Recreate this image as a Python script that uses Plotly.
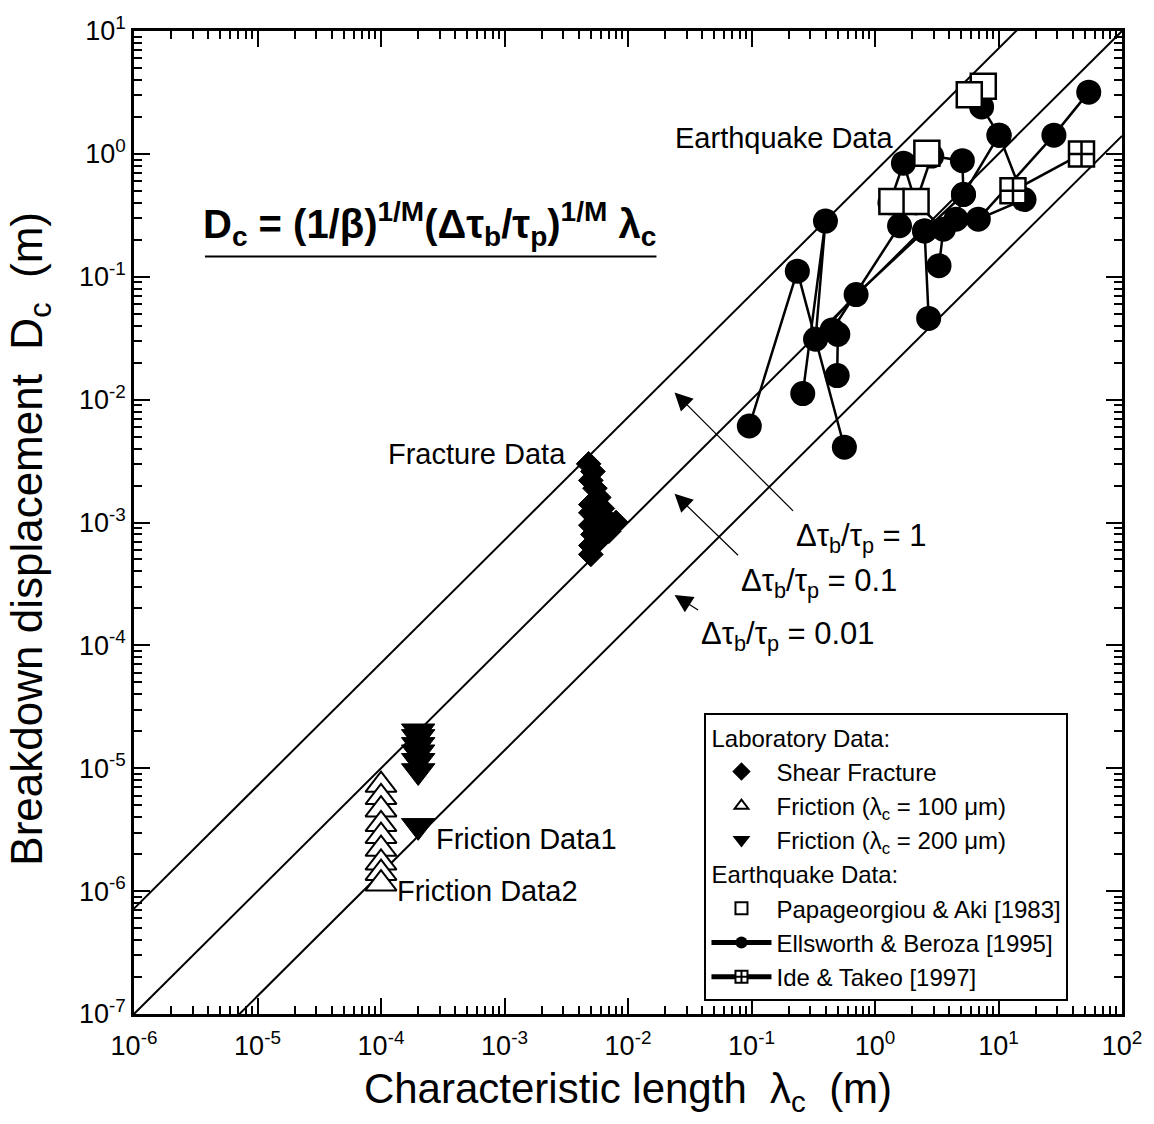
import plotly.graph_objects as go

# ---------------- data ----------------
# reference lines D_c = c * lambda_c  (end points)
line_x = [1e-6, 1e2]
line1_y = [7.2e-7, 72.0]     # dtau/tau = 1
line2_y = [1e-7, 10.0]       # dtau/tau = 0.1
line3_y = [1.4e-8, 1.4]      # dtau/tau = 0.01

# laboratory: shear fracture
shear_x = [4.8e-3, 5.2e-3, 5.0e-3, 5.4e-3, 5.8e-3, 5.0e-3, 6.2e-3, 5.0e-3, 5.5e-3,
           6.5e-3, 8.0e-3, 5.0e-3, 6.0e-3, 7.0e-3, 5.2e-3, 6.0e-3, 5.0e-3, 5.0e-3]
shear_y = [3.0e-3, 2.6e-3, 2.2e-3, 1.9e-3, 1.6e-3, 1.4e-3, 1.3e-3, 1.2e-3, 1.1e-3,
           1.1e-3, 1.0e-3, 9.5e-4, 9.0e-4, 8.5e-4, 8.0e-4, 7.5e-4, 6.5e-4, 5.5e-4]

# laboratory: friction lambda_c = 100 um
fric100_x = [1e-4] * 9
fric100_y = [7.3e-6, 5.8e-6, 4.6e-6, 3.5e-6, 2.8e-6, 2.2e-6, 1.7e-6, 1.4e-6, 1.15e-6]

# laboratory: friction lambda_c = 200 um
fric200_x = [2e-4] * 7
fric200_y = [2.0e-5, 1.8e-5, 1.55e-5, 1.35e-5, 1.15e-5, 9.5e-6, 3.4e-6]

# earthquake: Papageorgiou & Aki [1983]
pa_x = [1.37, 2.15, 2.63, 7.53, 5.8]
pa_y = [0.41, 0.41, 1.01, 3.55, 3.03]

# earthquake: Ellsworth & Beroza [1995] (None separates connected groups)
eb_x = [0.096, 0.235, 0.565, None,
        0.26, 0.397, 0.33, 0.703, 2.52, 2.72, None,
        0.494, 0.50, 0.45, 1.58, 1.32, 1.70, 2.14, 3.58, 3.3, None,
        2.14, 2.88, 5.1, 5.2, 2.52, None,
        53.8, 28.1, 6.86, 16.1, 10.1, 7.3, None,
        10.1, 5.2, 4.53]
eb_y = [0.0061, 0.111, 0.0041, None,
        0.0112, 0.284, 0.031, 0.0716, 0.236, 0.0458, None,
        0.0157, 0.034, 0.0369, 0.26, 0.40, 0.84, 0.40, 0.244, 0.123, None,
        0.40, 0.96, 0.88, 0.467, 0.236, None,
        3.18, 1.42, 0.294, 0.425, 1.42, 2.41, None,
        1.42, 0.467, 0.294]

# earthquake: Ide & Takeo [1997]
it_x = [13.1, 47.0]
it_y = [0.50, 1.0]

tick_vals_x = [1e-6, 1e-5, 1e-4, 1e-3, 1e-2, 1e-1, 1e0, 1e1, 1e2]
tick_text_x = ["10<sup>-6</sup>", "10<sup>-5</sup>", "10<sup>-4</sup>", "10<sup>-3</sup>",
               "10<sup>-2</sup>", "10<sup>-1</sup>", "10<sup>0</sup>", "10<sup>1</sup>",
               "10<sup>2</sup>"]
tick_vals_y = [1e-7, 1e-6, 1e-5, 1e-4, 1e-3, 1e-2, 1e-1, 1e0, 1e1]
tick_text_y = ["10<sup>-7</sup>", "10<sup>-6</sup>", "10<sup>-5</sup>", "10<sup>-4</sup>",
               "10<sup>-3</sup>", "10<sup>-2</sup>", "10<sup>-1</sup>", "10<sup>0</sup>",
               "10<sup>1</sup>"]

FONT = "Liberation Sans, Arial, Helvetica, sans-serif"

fig = go.Figure()

for ly in (line1_y, line2_y, line3_y):
    fig.add_trace(go.Scatter(x=line_x, y=ly, mode="lines",
                             line=dict(color="black", width=2),
                             showlegend=False, hoverinfo="skip"))

fig.add_trace(go.Scatter(
    x=shear_x, y=shear_y, mode="markers", name="Shear Fracture",
    legendgroup="lab", legendgrouptitle=dict(text="Laboratory Data:"), legendrank=1,
    marker=dict(symbol="diamond", size=19, color="black", line=dict(color="black", width=1))))
fig.add_trace(go.Scatter(
    x=fric100_x, y=fric100_y, mode="markers", name="Friction (λ<sub>c</sub> = 100 μm)",
    legendgroup="lab", legendrank=2,
    marker=dict(symbol="triangle-up", size=27, color="white", line=dict(color="black", width=2))))
fig.add_trace(go.Scatter(
    x=fric200_x, y=fric200_y, mode="markers", name="Friction (λ<sub>c</sub> = 200 μm)",
    legendgroup="lab", legendrank=3,
    marker=dict(symbol="triangle-down", size=29, color="black", line=dict(color="black", width=1))))
fig.add_trace(go.Scatter(
    x=eb_x, y=eb_y, mode="lines+markers", name="Ellsworth & Beroza [1995]",
    legendgroup="eq", legendrank=5, connectgaps=False,
    line=dict(color="black", width=2.5),
    marker=dict(symbol="circle", size=25, color="black")))
fig.add_trace(go.Scatter(
    x=pa_x, y=pa_y, mode="markers", name="Papageorgiou & Aki [1983]",
    legendgroup="eq", legendgrouptitle=dict(text="Earthquake Data:"), legendrank=4,
    marker=dict(symbol="square", size=25, color="white", line=dict(color="black", width=2.5))))
fig.add_trace(go.Scatter(
    x=it_x, y=it_y, mode="lines+markers", name="Ide & Takeo [1997]",
    legendgroup="eq", legendrank=6,
    line=dict(color="black", width=2.5),
    marker=dict(symbol="square-cross", size=25, color="white", line=dict(color="black", width=2.5))))

axis_common = dict(
    type="log", showgrid=False, zeroline=False, showline=True, linecolor="black",
    linewidth=2.5, mirror="allticks", ticks="inside", ticklen=16, tickwidth=2,
    tickcolor="black", tickfont=dict(family=FONT, size=27, color="black"),
    minor=dict(ticks="inside", ticklen=8, tickwidth=1.5, tickcolor="black",
               dtick="D1", showgrid=False),
)

fig.update_xaxes(**axis_common, range=[-6, 2], tickvals=tick_vals_x, ticktext=tick_text_x,
                 ticklabelstandoff=6,
                 title=dict(text="Characteristic length\u00a0\u00a0λ<sub>c</sub>\u00a0\u00a0(m)",
                            font=dict(family=FONT, size=42, color="black"), standoff=14))
fig.update_yaxes(**axis_common, range=[-7, 1], tickvals=tick_vals_y, ticktext=tick_text_y)

ann = []
def txt(x, y, s, size=29, xanchor="center", xref="x", yref="y", angle=0):
    ann.append(dict(x=x, y=y, xref=xref, yref=yref, text=s, showarrow=False,
                    xanchor=xanchor, yanchor="middle", textangle=angle,
                    font=dict(family=FONT, size=size, color="black")))

# y-axis title
txt(-0.105, 0.4838, "Breakdown displacement\u00a0\u00a0D<sub>c</sub>\u00a0\u00a0(m)",
    size=44, xref="paper", yref="paper", angle=-90)

txt(-0.733, 0.127, "Earthquake Data")
txt(-3.225, -2.442, "Fracture Data")
txt(-2.820, -5.578, "Friction Data1")
txt(-3.136, -5.998, "Friction Data2")
txt(-3.605, -0.57,
    "<b>D<sub>c</sub> = (1/β)<sup>1/M</sup>(Δτ<sub>b</sub>/τ<sub>p</sub>)<sup>1/M</sup> λ<sub>c</sub></b>",
    size=40)
txt(0.6684, 0.4838, "Δτ<sub>b</sub>/τ<sub>p</sub> = 1", size=31, xanchor="left", xref="paper", yref="paper")
txt(0.6127, 0.4384, "Δτ<sub>b</sub>/τ<sub>p</sub> = 0.1", size=31, xanchor="left", xref="paper", yref="paper")
txt(0.5723, 0.3848, "Δτ<sub>b</sub>/τ<sub>p</sub> = 0.01", size=31, xanchor="left", xref="paper", yref="paper")

for hx, hy, ax, ay in [(-1.623, -1.941, 120, 120), (-1.623, -2.766, 65, 63), (-1.623, -3.590, 25, 16)]:
    ann.append(dict(x=hx, y=hy, xref="x", yref="y", text="", showarrow=True,
                    ax=ax, ay=ay, axref="pixel", ayref="pixel",
                    arrowhead=2, arrowsize=3, arrowwidth=1.2, arrowcolor="black",
                    standoff=0, startstandoff=0))

fig.update_layout(
    annotations=ann,
    shapes=[dict(type="line", xref="paper", yref="paper", x0=0.0718, x1=0.5288,
                 y0=0.7707, y1=0.7707, line=dict(color="black", width=2))],
    width=1154, height=1124,
    margin=dict(l=134, r=31, t=24, b=110),
    paper_bgcolor="white", plot_bgcolor="white",
    font=dict(family=FONT, color="black"),
    legend=dict(x=0.5774, y=0.306, xanchor="left", yanchor="top",
                bgcolor="white", bordercolor="black", borderwidth=2,
                font=dict(family=FONT, size=24, color="black"),
                grouptitlefont=dict(family=FONT, size=24, color="black"),
                tracegroupgap=0, itemsizing="constant", itemwidth=60),
)

fig.write_html("out.html")
